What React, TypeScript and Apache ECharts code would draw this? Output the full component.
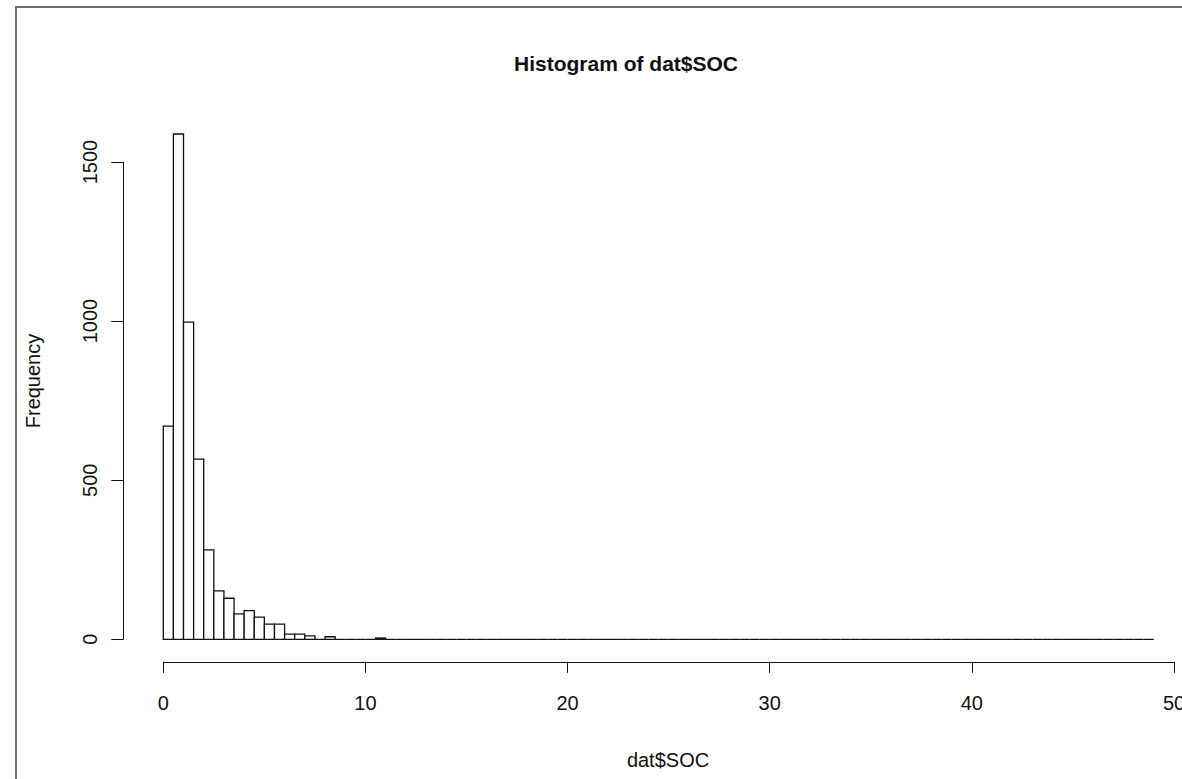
import React, { useEffect, useRef } from "react";
import * as echarts from "echarts";

// Histogram of dat$SOC — bin width 0.5 starting at 0
const binStart = 0;
const binWidth = 0.5;
const counts: number[] = [
  670, 1588, 997, 566, 281, 152, 129, 80, 90, 70,
  48, 48, 16, 16, 11, 0, 8, 0, 0, 0,
  0, 4, 0, 0, 0, 0, 0, 0, 0, 0,
  0, 0, 0, 0, 0, 0, 0, 0, 0, 0,
  0, 0, 0, 0, 0, 0, 0, 0, 0, 0,
  0, 0, 0, 0, 0, 0, 0, 0, 0, 0,
  0, 0, 0, 0, 0, 0, 0, 0, 0, 0,
  0, 0, 0, 0, 0, 0, 0, 0, 0, 0,
  0, 0, 0, 0, 0, 0, 0, 0, 0, 0,
  0, 0, 0, 0, 0, 0, 0, 0,
];
const xTicks = [0, 10, 20, 30, 40, 50];
const yTicks = [0, 500, 1000, 1500];
const titleText = "Histogram of dat$SOC";
const xLabel = "dat$SOC";
const yLabel = "Frequency";

const FONT = "'Liberation Sans', Arial, sans-serif";
const INK = "#111";

export default function App() {
  const ref = useRef<HTMLDivElement>(null);
  useEffect(() => {
    if (!ref.current) return;
    const chart = echarts.init(ref.current, undefined, { renderer: "svg" });
    const data = counts.map((c, i) => [
      binStart + i * binWidth,
      binStart + (i + 1) * binWidth,
      c,
    ]);
    const gridLeft = 163.3;
    const gridRight = 1174;
    const gridTop = 162;
    const gridBottom = 639.3;
    chart.setOption({
      animation: false,
      backgroundColor: "#fff",
      grid: {
        left: gridLeft,
        top: gridTop,
        width: gridRight - gridLeft,
        height: gridBottom - gridTop,
        containLabel: false,
        outerBoundsMode: "none",
      },
      xAxis: {
        type: "value",
        min: xTicks[0],
        max: xTicks[xTicks.length - 1],
        interval: 10,
        offset: 22.5,
        axisLine: { show: true, onZero: false, lineStyle: { color: INK, width: 1 } },
        axisTick: { show: true, length: 11, lineStyle: { color: INK, width: 1 } },
        axisLabel: {
          color: INK,
          fontFamily: FONT,
          fontSize: 20,
          margin: 31,
          showMaxLabel: true,
          showMinLabel: true,
          hideOverlap: false,
          formatter: (v: number) => String(v),
        },
        splitLine: { show: false },
      },
      yAxis: {
        type: "value",
        min: yTicks[0],
        max: yTicks[yTicks.length - 1],
        interval: 500,
        offset: 40,
        axisLine: { show: true, onZero: false, lineStyle: { color: INK, width: 1 } },
        axisTick: { show: true, length: 12, lineStyle: { color: INK, width: 1 } },
        axisLabel: {
          color: INK,
          fontFamily: FONT,
          fontSize: 20,
          rotate: 90,
          margin: 23,
          showMaxLabel: true,
          showMinLabel: true,
          formatter: (v: number) => String(v),
        },
        splitLine: { show: false },
      },
      series: [
        {
          type: "custom",
          clip: false,
          encode: { x: [0, 1], y: 2 },
          data,
          renderItem: (params: any, api: any) => {
            const x0 = api.value(0);
            const x1 = api.value(1);
            const c = api.value(2);
            const p0 = api.coord([x0, 0]);
            const p1 = api.coord([x1, c]);
            return {
              type: "polygon",
              shape: {
                points: [
                  [p0[0], p0[1]],
                  [p0[0], p1[1]],
                  [p1[0], p1[1]],
                  [p1[0], p0[1]],
                ],
              },
              style: { fill: "#fff", stroke: INK, lineWidth: 1.3 },
            };
          },
        },
      ],
      graphic: [
        {
          type: "rect",
          shape: { x: 16, y: 7, width: 1300, height: 900 },
          style: { fill: "none", stroke: "#6e6e6e", lineWidth: 2 },
          silent: true,
        },
        {
          type: "text",
          x: 626,
          y: 63,
          style: {
            text: titleText,
            fontFamily: FONT,
            fontWeight: "bold",
            fontSize: 21,
            fill: INK,
            align: "center",
            verticalAlign: "middle",
          },
        },
        {
          type: "text",
          x: 668,
          y: 760,
          style: {
            text: xLabel,
            fontFamily: FONT,
            fontSize: 20,
            fill: INK,
            align: "center",
            verticalAlign: "middle",
          },
        },
        {
          type: "text",
          x: 33,
          y: 381,
          rotation: Math.PI / 2,
          style: {
            text: yLabel,
            fontFamily: FONT,
            fontSize: 20,
            fill: INK,
            align: "center",
            verticalAlign: "middle",
          },
        },
      ],
    });
    return () => chart.dispose();
  }, []);
  return (
    <div
      ref={ref}
      style={{ position: "fixed", left: 0, top: 0, width: 1182, height: 779, background: "#fff" }}
    />
  );
}
